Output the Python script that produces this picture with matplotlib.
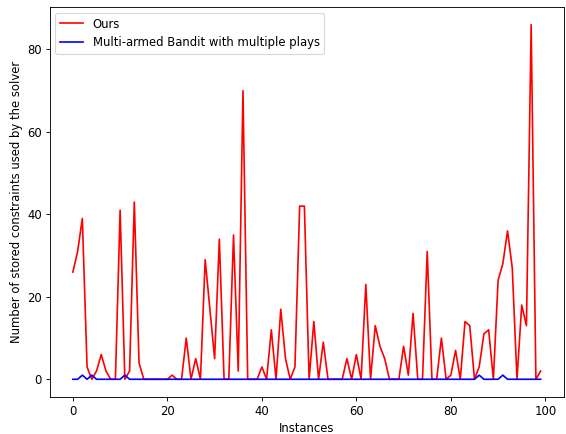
import matplotlib
matplotlib.use("Agg")
import matplotlib.pyplot as plt
import numpy as np

instances = list(range(100))
ours = [26, 31, 39, 3, 0, 2, 6, 2, 0, 0,
        41, 0, 2, 43, 4, 0, 0, 0, 0, 0,
        0, 1, 0, 0, 10, 0, 5, 0, 29, 17,
        5, 34, 0, 0, 35, 2, 70, 0, 0, 0,
        3, 0, 12, 0, 17, 5, 0, 3, 42, 42,
        0, 14, 0, 9, 0, 0, 0, 0, 5, 0,
        6, 0, 23, 0, 13, 8, 5, 0, 0, 0,
        8, 1, 16, 0, 0, 31, 0, 0, 10, 0,
        1, 7, 0, 14, 13, 0, 3, 11, 12, 0,
        24, 28, 36, 27, 0, 18, 13, 86, 0, 2]
bandit = [0] * 100
for i in (2, 4, 11, 86, 91):
    bandit[i] = 1

plt.rcParams["font.size"] = 10.5
fig = plt.figure(figsize=(566 / 80, 434 / 80), dpi=80)
ax = fig.add_axes([49.5 / 566, 1 - 397 / 434, (564 - 49.5) / 566, (397 - 7) / 434])
ax.plot(instances, ours, color="red", label="Ours")
ax.plot(instances, bandit, color="blue", label="Multi-armed Bandit with multiple plays")
ax.set_xlabel("Instances")
ax.set_ylabel("Number of stored constraints used by the solver")
ax.legend(loc="upper left")
fig.savefig("out.png", dpi=80)
